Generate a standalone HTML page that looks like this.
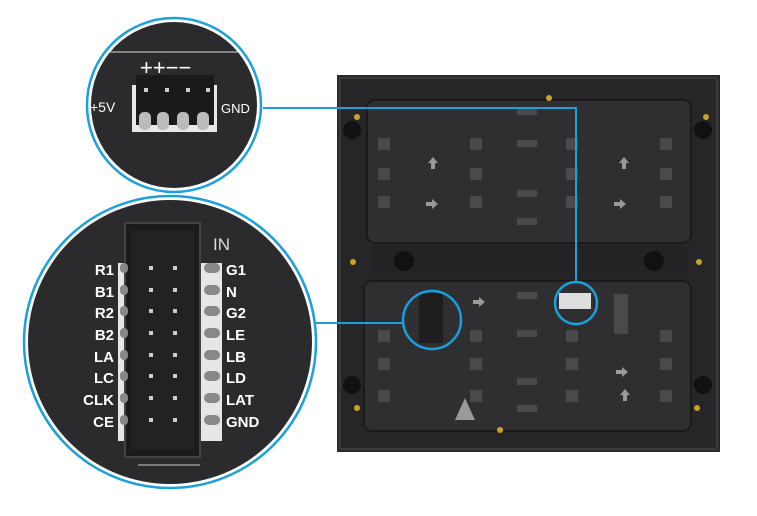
<!DOCTYPE html>
<html><head><style>body{margin:0;background:#fff}svg{display:block}</style></head><body>
<svg width="757" height="516" viewBox="0 0 757 516" font-family="Liberation Sans, sans-serif">
<defs>
<clipPath id="c1"><circle cx="174" cy="105" r="83"/></clipPath>
<clipPath id="c2"><circle cx="170" cy="342" r="142"/></clipPath>
</defs>
<!-- panel -->
<rect x="337" y="75" width="383" height="377" fill="#2a2a2c"/>
<rect x="340" y="78" width="377" height="371" fill="#262628" stroke="#3a3a3c" stroke-width="2"/>
<rect x="367" y="100" width="324" height="143" rx="8" fill="#2f2f31" stroke="#1a1a1a" stroke-width="2"/>
<rect x="364" y="281" width="327" height="150" rx="8" fill="#2f2f31" stroke="#1a1a1a" stroke-width="2"/>
<rect x="370" y="246" width="318" height="32" fill="#232325"/>
<g fill="#c9a227"><circle cx="549" cy="98" r="3"/><circle cx="357" cy="117" r="3"/><circle cx="706" cy="117" r="3"/><circle cx="353" cy="262" r="3"/><circle cx="699" cy="262" r="3"/><circle cx="357" cy="408" r="3"/><circle cx="697" cy="408" r="3"/><circle cx="500" cy="430" r="3"/></g>
<g fill="#111"><circle cx="352" cy="130" r="9"/><circle cx="703" cy="130" r="9"/><circle cx="352" cy="385" r="9"/><circle cx="703" cy="385" r="9"/><circle cx="404" cy="261" r="10"/><circle cx="654" cy="261" r="10"/></g>
<g fill="#4a4a4c">
<rect x="378" y="138" width="12" height="12"/><rect x="470" y="138" width="12" height="12"/><rect x="566" y="138" width="12" height="12"/><rect x="660" y="138" width="12" height="12"/>
<rect x="378" y="168" width="12" height="12"/><rect x="470" y="168" width="12" height="12"/><rect x="566" y="168" width="12" height="12"/><rect x="660" y="168" width="12" height="12"/>
<rect x="378" y="196" width="12" height="12"/><rect x="470" y="196" width="12" height="12"/><rect x="566" y="196" width="12" height="12"/><rect x="660" y="196" width="12" height="12"/>
<rect x="517" y="108" width="20" height="7"/><rect x="517" y="140" width="20" height="7"/><rect x="517" y="190" width="20" height="7"/><rect x="517" y="218" width="20" height="7"/>
<rect x="378" y="330" width="12" height="12"/><rect x="470" y="330" width="12" height="12"/><rect x="566" y="330" width="12" height="12"/><rect x="660" y="330" width="12" height="12"/>
<rect x="378" y="358" width="12" height="12"/><rect x="470" y="358" width="12" height="12"/><rect x="566" y="358" width="12" height="12"/><rect x="660" y="358" width="12" height="12"/>
<rect x="378" y="390" width="12" height="12"/><rect x="470" y="390" width="12" height="12"/><rect x="566" y="390" width="12" height="12"/><rect x="660" y="390" width="12" height="12"/>
<rect x="517" y="292" width="20" height="7"/><rect x="517" y="330" width="20" height="7"/><rect x="517" y="378" width="20" height="7"/><rect x="517" y="405" width="20" height="7"/>
<rect x="614" y="294" width="14" height="40"/>
</g>
<g fill="#9a9a9c"><path d="M428 163l5-6 5 6h-3v6h-4v-6z"/><path d="M619 163l5-6 5 6h-3v6h-4v-6z"/><path d="M426 202h6v-3l6 5-6 5v-3h-6z"/><path d="M614 202h6v-3l6 5-6 5v-3h-6z"/><path d="M473 300h6v-3l6 5-6 5v-3h-6z"/><path d="M616 370h6v-3l6 5-6 5v-3h-6z"/><path d="M620 395l5-6 5 6h-3v6h-4v-6z"/><path d="M455 420l10-22 10 22z"/></g>
<rect x="419" y="293" width="24" height="50" fill="#1e1e1e"/>
<rect x="559" y="293" width="32" height="16" fill="#ddd"/>
<!-- connectors -->
<polyline points="263,108 576,108 576,282" fill="none" stroke="#1aa0dc" stroke-width="2"/>
<line x1="315" y1="323" x2="402" y2="323" stroke="#1aa0dc" stroke-width="2"/>
<circle cx="576" cy="303" r="21" fill="none" stroke="#1aa0dc" stroke-width="2.5"/>
<circle cx="432" cy="320" r="29" fill="none" stroke="#1aa0dc" stroke-width="2.5"/>
<!-- top circle -->
<circle cx="174" cy="105" r="87" fill="#fff" stroke="#1aa0dc" stroke-width="2.5"/>
<g clip-path="url(#c1)">
<rect x="80" y="15" width="190" height="190" fill="#2b2b2d"/>
<line x1="80" y1="52" x2="270" y2="52" stroke="#ddd" stroke-width="1"/>
<rect x="132" y="85" width="85" height="47" fill="#e8e8e8"/>
<rect x="136" y="75" width="78" height="50" fill="#1a1a1a"/>
<g fill="#bbb"><rect x="139" y="112" width="12" height="18" rx="5"/><rect x="157" y="112" width="12" height="18" rx="5"/><rect x="177" y="112" width="12" height="18" rx="5"/><rect x="197" y="112" width="12" height="18" rx="5"/></g>
<g fill="#ccc"><rect x="144" y="88" width="4" height="4"/><rect x="165" y="88" width="4" height="4"/><rect x="186" y="88" width="4" height="4"/><rect x="206" y="88" width="4" height="4"/></g>
<text x="140" y="75" fill="#fff" font-size="22">++−−</text>
<text x="90" y="112" fill="#fff" font-size="14">+5V</text>
<text x="221" y="113" fill="#fff" font-size="13">GND</text>
</g>
<!-- big circle -->
<circle cx="170" cy="342" r="146" fill="#fff" stroke="#1aa0dc" stroke-width="2.5"/>
<g clip-path="url(#c2)">
<rect x="20" y="190" width="300" height="310" fill="#2b2b2d"/>
<rect x="118" y="263" width="14" height="178" fill="#e6e6e6"/>
<rect x="200" y="263" width="22" height="178" fill="#e6e6e6"/>
<rect x="125" y="223" width="75" height="234" fill="#1b1b1b" stroke="#444" stroke-width="2"/>
<rect x="131" y="230" width="63" height="220" fill="#222"/>
<line x1="138" y1="465" x2="200" y2="465" stroke="#ccc"/>
<text x="213" y="250" fill="#ddd" font-size="17">IN</text>
<g fill="#ccc">
<rect x="149" y="266" width="4" height="4"/><rect x="173" y="266" width="4" height="4"/>
<rect x="149" y="288" width="4" height="4"/><rect x="173" y="288" width="4" height="4"/>
<rect x="149" y="309" width="4" height="4"/><rect x="173" y="309" width="4" height="4"/>
<rect x="149" y="331" width="4" height="4"/><rect x="173" y="331" width="4" height="4"/>
<rect x="149" y="353" width="4" height="4"/><rect x="173" y="353" width="4" height="4"/>
<rect x="149" y="374" width="4" height="4"/><rect x="173" y="374" width="4" height="4"/>
<rect x="149" y="396" width="4" height="4"/><rect x="173" y="396" width="4" height="4"/>
<rect x="149" y="418" width="4" height="4"/><rect x="173" y="418" width="4" height="4"/>
</g>
<g fill="#888"><rect x="120" y="263" width="8" height="10" rx="4"/><rect x="120" y="285" width="8" height="10" rx="4"/><rect x="120" y="306" width="8" height="10" rx="4"/><rect x="120" y="328" width="8" height="10" rx="4"/><rect x="120" y="350" width="8" height="10" rx="4"/><rect x="120" y="371" width="8" height="10" rx="4"/><rect x="120" y="393" width="8" height="10" rx="4"/><rect x="120" y="415" width="8" height="10" rx="4"/>
<rect x="204" y="263" width="16" height="10" rx="5"/><rect x="204" y="285" width="16" height="10" rx="5"/><rect x="204" y="306" width="16" height="10" rx="5"/><rect x="204" y="328" width="16" height="10" rx="5"/><rect x="204" y="350" width="16" height="10" rx="5"/><rect x="204" y="371" width="16" height="10" rx="5"/><rect x="204" y="393" width="16" height="10" rx="5"/><rect x="204" y="415" width="16" height="10" rx="5"/></g>
<g fill="#fff" font-size="15" font-weight="bold" text-anchor="end">
<text x="114" y="275">R1</text><text x="114" y="297">B1</text><text x="114" y="318">R2</text><text x="114" y="340">B2</text><text x="114" y="362">LA</text><text x="114" y="383">LC</text><text x="114" y="405">CLK</text><text x="114" y="427">CE</text>
</g>
<g fill="#fff" font-size="15" font-weight="bold">
<text x="226" y="275">G1</text><text x="226" y="297">N</text><text x="226" y="318">G2</text><text x="226" y="340">LE</text><text x="226" y="362">LB</text><text x="226" y="383">LD</text><text x="226" y="405">LAT</text><text x="226" y="427">GND</text>
</g>
</g>
</svg>
</body></html>
